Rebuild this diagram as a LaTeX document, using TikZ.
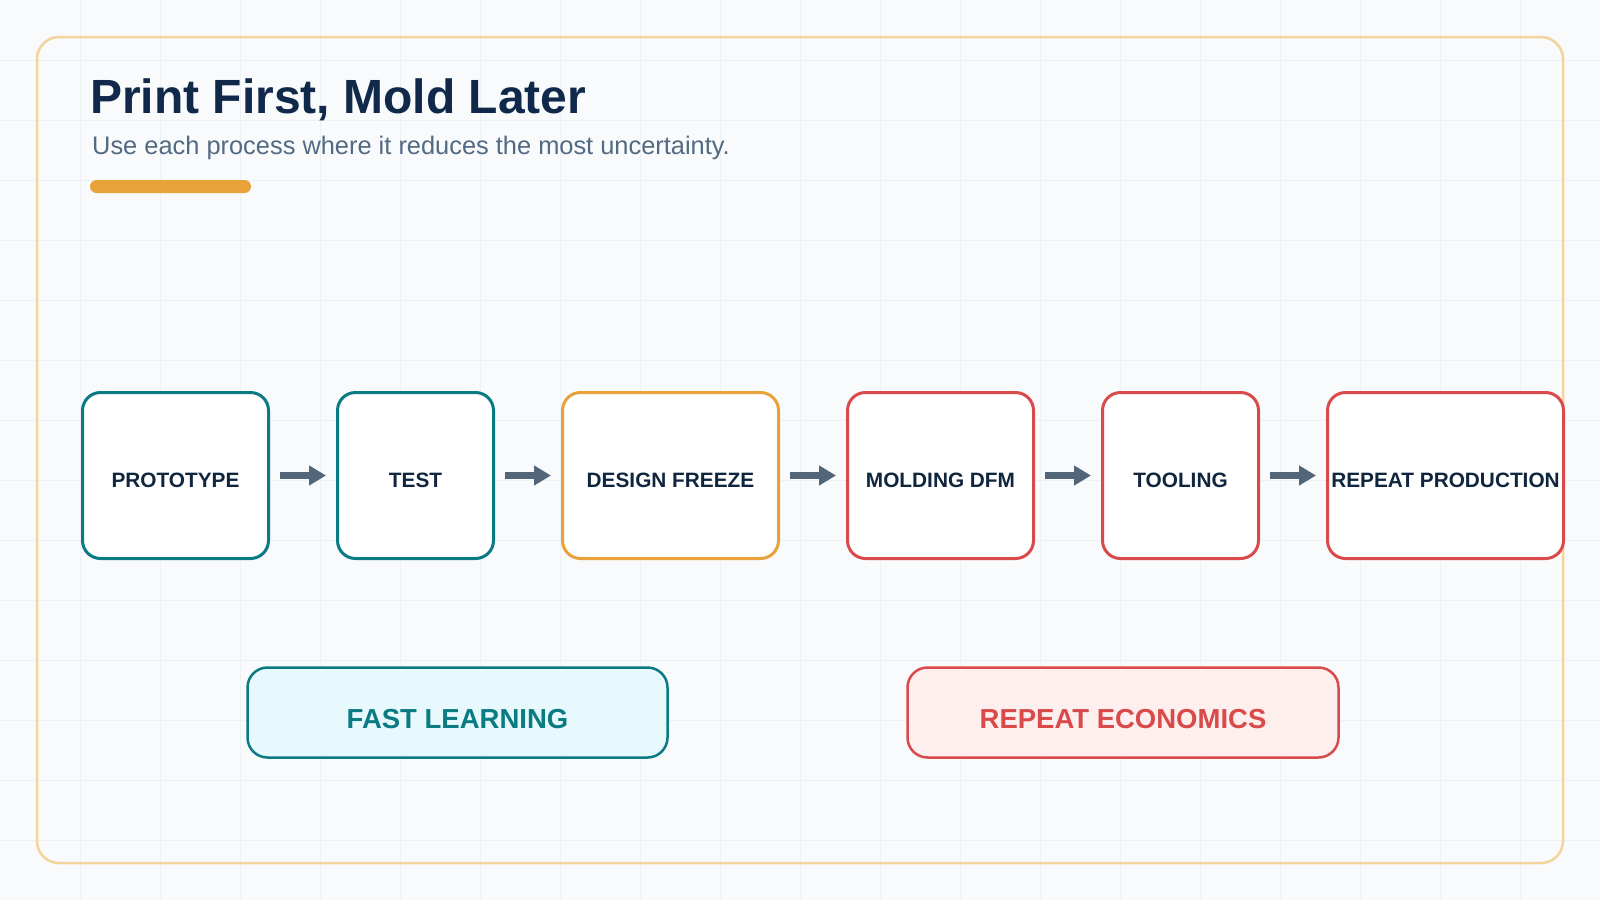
\documentclass[tikz,border=0pt]{standalone}
\usepackage{fontspec}
\setmainfont{Liberation Sans}
\usetikzlibrary{arrows.meta}
\definecolor{bgc}{HTML}{F8FAFC}
\definecolor{gridc}{HTML}{EDF1F6}
\definecolor{framec}{HTML}{F3D59B}
\definecolor{navy}{HTML}{10294A}
\definecolor{subc}{HTML}{526A82}
\definecolor{barc}{HTML}{E8A23A}
\definecolor{tealc}{HTML}{0A7B83}
\definecolor{orangec}{HTML}{E9A23B}
\definecolor{redc}{HTML}{D94A4A}
\definecolor{arrowc}{HTML}{526579}
\definecolor{boxtext}{HTML}{10263F}
\definecolor{fastfill}{HTML}{E7F9FC}
\definecolor{repfill}{HTML}{FEEFEF}
\tikzset{
  stagebox/.style={draw, line width=3pt, fill=white, rounded corners=18pt,
    minimum height=166pt, inner sep=0pt, text=boxtext,
    font=\fontsize{20.8}{24}\selectfont\bfseries, text height=23pt, text depth=0pt},
  sumbox/.style={draw, line width=2.5pt, rounded corners=20pt,
    minimum height=90pt, inner sep=0pt,
    font=\fontsize{27.5}{32}\selectfont\bfseries, text height=31pt, text depth=0pt},
  flowarrow/.style={draw=arrowc, line width=6.5pt, shorten <=10pt, shorten >=10pt,
    -{Triangle[length=17pt,width=19pt]}}
}
\begin{document}
\begin{tikzpicture}[x=1pt,y=-1pt]
\useasboundingbox (0,0) rectangle (1600,900);
\fill[bgc] (0,0) rectangle (1600,900);
\foreach \gx in {80,160,...,1560} \draw[gridc, line width=1pt] (\gx,0) -- (\gx,900);
\foreach \gy in {60,120,...,840} \draw[gridc, line width=1pt] (0,\gy) -- (1600,\gy);
\draw[framec, line width=2.5pt, rounded corners=22pt] (37,37) rectangle (1563,863);

\node[anchor=base west, inner sep=0pt, text=navy, font=\fontsize{48}{58}\selectfont\bfseries] (title) at (90,113) {Print First, Mold Later};
\node[anchor=base west, inner sep=0pt, text=subc, font=\fontsize{25.4}{30}\selectfont] (subtitle) at (92,154) {Use each process where it reduces the most uncertainty.};
\fill[barc, rounded corners=6.5pt] (90,180) rectangle (251,193);

\node[stagebox, draw=tealc, minimum width=186pt] (b1) at (175.5,475.5) {PROTOTYPE};
\node[stagebox, draw=tealc, minimum width=156pt] (b2) at (415.5,475.5) {TEST};
\node[stagebox, draw=orangec, minimum width=216pt] (b3) at (670.5,475.5) {DESIGN FREEZE};
\node[stagebox, draw=redc, minimum width=186pt] (b4) at (940.5,475.5) {MOLDING DFM};
\node[stagebox, draw=redc, minimum width=156pt] (b5) at (1180.5,475.5) {TOOLING};
\node[stagebox, draw=redc, minimum width=236pt] (b6) at (1445.5,475.5) {REPEAT PRODUCTION};

\draw[flowarrow] (b1.east) -- (b2.west);
\draw[flowarrow] (b2.east) -- (b3.west);
\draw[flowarrow] (b3.east) -- (b4.west);
\draw[flowarrow] (b4.east) -- (b5.west);
\draw[flowarrow] (b5.east) -- (b6.west);

\node[sumbox, draw=tealc, fill=fastfill, text=tealc, minimum width=420pt] (fast) at (457.5,712.5) {FAST LEARNING};
\node[sumbox, draw=redc, fill=repfill, text=redc, minimum width=431pt] (repeat) at (1123,712.5) {REPEAT ECONOMICS};
\end{tikzpicture}
\end{document}
